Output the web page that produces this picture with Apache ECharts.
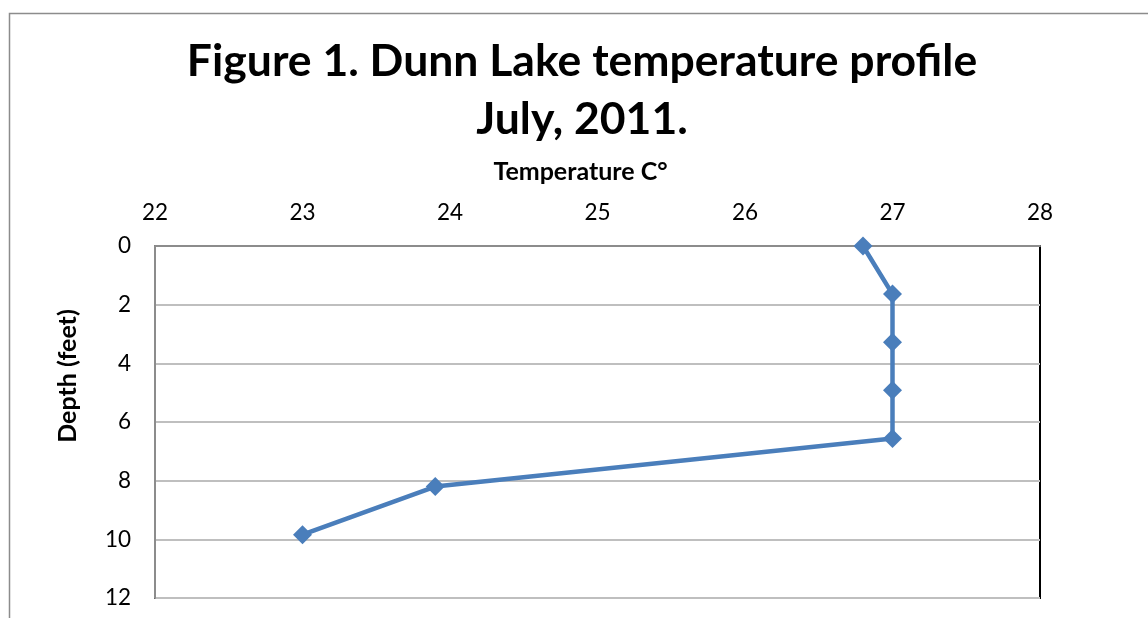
<!DOCTYPE html>
<html>
<head>
    <meta charset="utf-8">
    <title>Dunn Lake temperature profile</title>
    <script src="https://cdn.jsdelivr.net/npm/echarts@6/dist/echarts.min.js"></script>
    <style>
        body { margin: 0; background: #fff; }
        #main { width: 1148px; height: 618px; }
    </style>
</head>
<body>
    <div id="main"></div>
    <script type="text/javascript">
    var temperature = [26.8, 27, 27, 27, 27, 23.9, 23];
    var depthFeet = [0, 1.64, 3.28, 4.92, 6.56, 8.2, 9.84];
    var tempTicks = [22, 23, 24, 25, 26, 27, 28];
    var depthTicks = [0, 2, 4, 6, 8, 10, 12];

    var points = temperature.map(function (t, i) { return [t, depthFeet[i]]; });

    var myChart = echarts.init(document.getElementById('main'));
    var font = 'Lato, "Open Sans", sans-serif';

    var option = {
        backgroundColor: '#fff',
        animation: false,
        graphic: [
            {
                type: 'rect', left: 7, top: 11, silent: true,
                shape: { width: 1160, height: 640 },
                style: { fill: 'none', stroke: '#8c8c8c', lineWidth: 1.5 }
            },
            {
                // chart title, centred a little right of the page centre as in the original
                type: 'text', x: 582, y: 33,
                style: {
                    text: 'Figure 1. Dunn Lake temperature profile\nJuly, 2011.',
                    fontFamily: font, fontWeight: 'bold', fontSize: 44.5, lineHeight: 58,
                    fill: '#000', align: 'center', verticalAlign: 'top'
                }
            },
            {
                type: 'text', rotation: Math.PI / 2, x: 68, y: 376,
                style: { text: 'Depth (feet)', fontFamily: font, fontWeight: 'bold', fontSize: 25, fill: '#000', align: 'center', verticalAlign: 'middle' }
            }
        ],
        grid: { left: 155, top: 246, width: 885, height: 352, show: true, borderColor: '#000', borderWidth: 2 },
        xAxis: {
            type: 'value', position: 'top',
            min: tempTicks[0], max: tempTicks[tempTicks.length - 1], interval: 1,
            name: 'Temperature C°', nameLocation: 'middle', nameGap: 62,
            nameTextStyle: { fontFamily: font, fontWeight: 'bold', fontSize: 25, color: '#000', padding: [0, 34, 0, 0] },
            axisLine: { show: true, lineStyle: { color: '#8c8c8c', width: 2 } },
            axisTick: { show: false },
            splitLine: { show: false },
            axisLabel: { fontFamily: font, fontSize: 22.5, color: '#000', margin: 22 }
        },
        yAxis: {
            type: 'value', inverse: true,
            min: depthTicks[0], max: depthTicks[depthTicks.length - 1], interval: 2,
            axisLine: { show: true, lineStyle: { color: '#8c8c8c', width: 2 } },
            axisTick: { show: false },
            splitLine: { show: true, lineStyle: { color: '#bfbfbf', width: 2 } },
            axisLabel: { fontFamily: font, fontSize: 22.5, color: '#000', margin: 24 }
        },
        series: [{
            type: 'line',
            data: points,
            symbol: 'diamond',
            symbolSize: 19,
            itemStyle: { color: '#4a7ebb' },
            lineStyle: { color: '#4a7ebb', width: 4.5 }
        }]
    };

    myChart.setOption(option);
    </script>
</body>
</html>
